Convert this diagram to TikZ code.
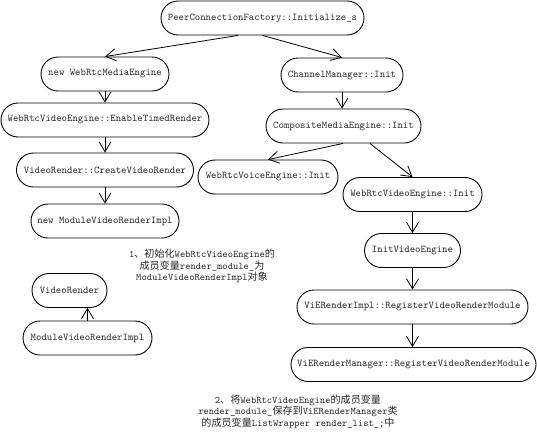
\documentclass[tikz,border=0pt]{standalone}
\usepackage{fontspec}
\newfontfamily\cjkf{Noto Sans CJK SC}
\newcommand\zhs[1]{{\cjkf #1}}
\usetikzlibrary{arrows.meta,calc}
\begin{document}
\begin{tikzpicture}[x=1pt,y=-1pt,
  box/.style={draw, line width=0.9pt, rounded corners=17pt, minimum height=34pt,
    inner xsep=3pt, inner ysep=0pt, font=\ttfamily\fontsize{10.3}{12}\selectfont, text=black!85},
  arr/.style={draw, line width=0.8pt, -{Straight Barb[length=10pt,width=12pt]}},
  note/.style={align=center, font=\ttfamily\fontsize{10.1}{11.5}\selectfont, text=black!85, inner sep=0pt}]
\useasboundingbox (0,0) rectangle (537,442);
% left chain
\node[box, minimum width=203pt] (top) at (262.5,18) {PeerConnectionFactory::Initialize\_s};
\node[box, minimum width=128pt] (media) at (105,74) {new WebRtcMediaEngine};
\node[box, minimum width=208pt] (enable) at (105,120) {WebRtcVideoEngine::EnableTimedRender};
\node[box, minimum width=177pt] (cvr) at (105,170) {VideoRender::CreateVideoRender};
\node[box, minimum width=148pt] (nmvri) at (105,221) {new ModuleVideoRenderImpl};
% right chain
\node[box, minimum width=122pt] (chan) at (342,75) {ChannelManager::Init};
\node[box, minimum width=155pt] (comp) at (343.5,126) {CompositeMediaEngine::Init};
\node[box, minimum width=140pt] (voice) at (268,177) {WebRtcVoiceEngine::Init};
\node[box, minimum width=139pt] (video) at (412.5,194.5) {WebRtcVideoEngine::Init};
\node[box, minimum width=96pt] (ive) at (412.5,250.5) {InitVideoEngine};
\node[box, minimum width=231pt] (vimpl) at (412.5,307) {ViERenderImpl::RegisterVideoRenderModule};
\node[box, minimum width=245pt] (vmgr) at (413.5,364.5) {ViERenderManager::RegisterVideoRenderModule};
% bottom left
\node[box, minimum width=75pt] (vr) at (69.5,290.5) {VideoRender};
\node[box, minimum width=129pt] (mvri) at (87.5,338) {ModuleVideoRenderImpl};
% notes
\node[note] (note1) at (202,266) {1\zhs{、初始化}WebRtcVideoEngine\zhs{的}\\\zhs{成员变量}render\_module\_\zhs{为}\\ModuleVideoRenderImpl\zhs{对象}};
\node[note] (note2) at (298,411.5) {2\zhs{、将}WebRtcVideoEngine\zhs{的成员变量}\\render\_module\_\zhs{保存到}ViERenderManager\zhs{类}\\\zhs{的成员变量}ListWrapper render\_list\_;\zhs{中}};
% connectors
\draw[arr] ([xshift=-24.5pt]top.south) -- (media.north);
\draw[arr] (top.south) -- (chan.north);
\draw[arr] (media.south) -- (enable.north);
\draw[arr] (enable.south) -- (cvr.north);
\draw[arr] (cvr.south) -- (nmvri.north);
\draw[arr] (chan.south) -- (chan.south |- comp.north);
\draw[arr] ([xshift=-0.5pt]comp.south) -- (voice.north);
\draw[arr] ([xshift=26.5pt]comp.south) -- (video.north);
\draw[arr] (video.south) -- (ive.north);
\draw[arr] (ive.south) -- (vimpl.north);
\draw[arr] (vimpl.south) -- (vimpl.south |- vmgr.north);
\draw[arr] (mvri.north) -- (mvri.north |- vr.south);
\end{tikzpicture}
\end{document}
